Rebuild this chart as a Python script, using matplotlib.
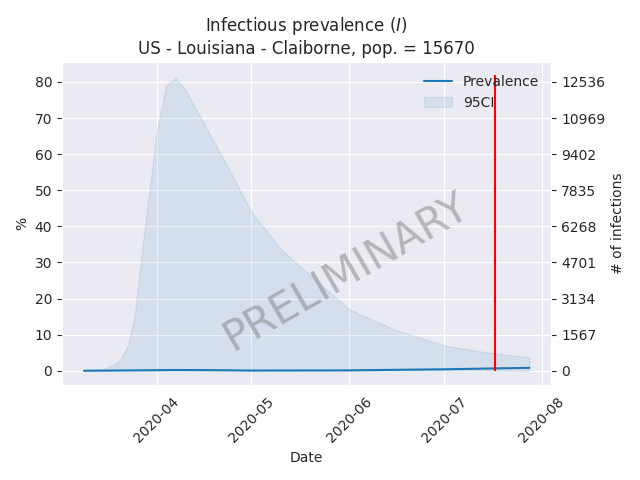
import matplotlib
matplotlib.use("Agg")
import matplotlib.pyplot as plt
import matplotlib.dates as mdates
import seaborn as sns
import numpy as np
import pandas as pd

sns.set_style("darkgrid")

pop = 15670
## upper bound of 95% CI (%)
ci_dates = pd.to_datetime(["2020-03-09", "2020-03-15", "2020-03-20", "2020-03-23", "2020-03-25",
                           "2020-03-28", "2020-04-01", "2020-04-04", "2020-04-07", "2020-04-10",
                           "2020-04-15", "2020-04-20", "2020-04-25", "2020-05-01", "2020-05-10",
                           "2020-05-15", "2020-06-01", "2020-06-15", "2020-07-01", "2020-07-15",
                           "2020-07-28"])
ci_upper = [0.0, 0.3, 2.5, 7, 15, 38, 66, 79, 81, 78, 70, 62, 54, 44, 34, 30, 17, 11.5, 7, 5, 3.7]
ci_lower = [0.0] * len(ci_dates)
## prevalence (%)
prev_dates = pd.to_datetime(["2020-03-09", "2020-03-25", "2020-04-07", "2020-04-20", "2020-05-01",
                             "2020-06-01", "2020-07-01", "2020-07-28"])
prev = [0.0, 0.1, 0.2, 0.15, 0.05, 0.1, 0.4, 0.8]
cutoff = pd.Timestamp("2020-07-17")

fig, ax = plt.subplots(figsize=(6.4, 4.8), dpi=100)
ax.plot(prev_dates, prev, color="C0", label="Prevalence")
ax.fill_between(ci_dates, ci_lower, ci_upper, color="C0", alpha=0.1, label="95CI")
ax.set_title("Infectious prevalence ($I$)\nUS - Louisiana - Claiborne, pop. = %d" % pop)
ax.set_xlabel("Date")
ax.set_ylabel("%")
ax.legend(loc="upper right", frameon=False)
ax.xaxis.set_major_locator(mdates.MonthLocator())
ax.xaxis.set_major_formatter(mdates.DateFormatter("%Y-%m"))
ax.set_xlim(pd.Timestamp("2020-03-02"), pd.Timestamp("2020-08-04"))
plt.setp(ax.get_xticklabels(), rotation=45)
ax.set_ylim(-4, 85.5)
ax.vlines(cutoff, 0, 82, color="red")
ax.text(0.58, 0.35, "PRELIMINARY", transform=ax.transAxes, fontsize=30, color="grey",
        alpha=0.5, rotation=30, ha="center", va="center")

ax2 = ax.twinx()
ax2.set_ylim(np.array(ax.get_ylim()) * pop / 100)
ax2.set_yticks([pop * k / 10 for k in range(9)])
ax2.set_yticklabels([str(int(pop * k / 10)) for k in range(9)])
ax2.set_ylabel("# of infections")
ax2.grid(False)

plt.tight_layout()
plt.savefig("out.png")
